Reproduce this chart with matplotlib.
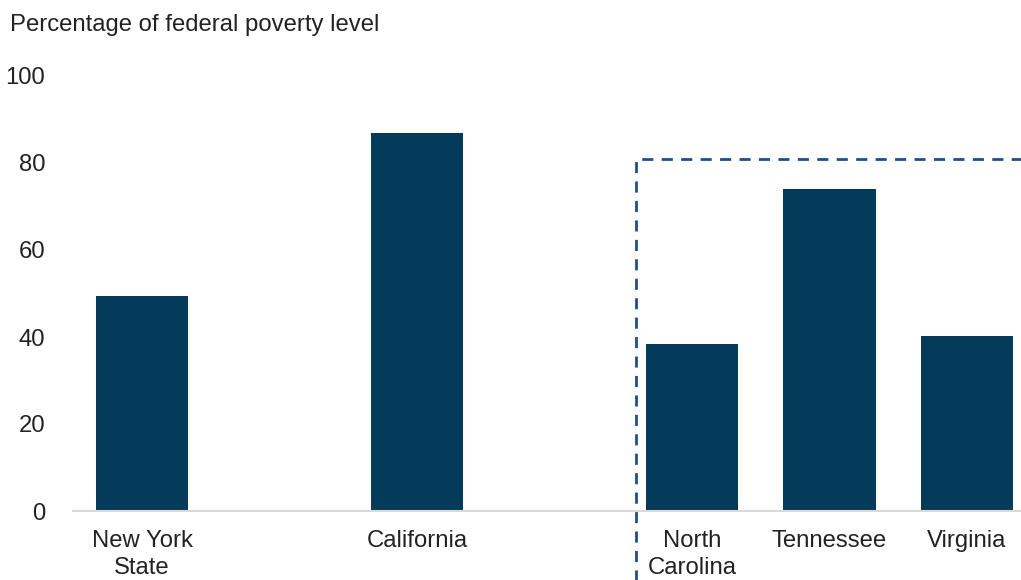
import matplotlib
matplotlib.use("Agg")
import matplotlib.pyplot as plt

categories = ["New York\nState", "California", "North\nCarolina", "Tennessee", "Virginia"]
values = [49.4, 86.9, 38.4, 74.0, 40.2]
groups = [0, 1, 2, 2, 2]
y_ticks = [0, 20, 40, 60, 80, 100]
box_top = 81

plt.rcParams['font.family'] = ['Liberation Sans', 'DejaVu Sans']
FS = 17.2

fig = plt.figure(figsize=(10.21, 5.8), dpi=100)
ax = fig.add_axes([73/1021, 69/580, 1 - 73/1021, (511-76)/580])

positions = [i + g for i, g in enumerate(groups)]
ax.bar(positions, values, width=0.67, color="#053B5A")

ax.set_xlim(-0.502, 6.393)
ax.set_ylim(0, 100)
ax.set_yticks(y_ticks)
ax.set_yticklabels([str(t) for t in y_ticks], fontsize=FS, color="#222222")
ax.set_xticks(positions)
ax.set_xticklabels(categories, fontsize=FS, color="#222222", linespacing=1.25)
ax.tick_params(axis='both', length=0)
ax.tick_params(axis='y', pad=20)
ax.tick_params(axis='x', pad=14)
for s in ["top", "right", "left"]:
    ax.spines[s].set_visible(False)
ax.spines["bottom"].set_color("#D9D9D9")
ax.spines["bottom"].set_linewidth(1.5)

# dashed highlight box
xd = positions[2] - 0.407
ax.plot([xd, xd, 7.0], [-20, box_top, box_top], linestyle=(0, (4, 3)),
        color="#1F4E8C", linewidth=2, clip_on=False)

fig.text(10/1021, 1 - 25/580, "Percentage of federal poverty level", fontsize=FS,
         color="#222222", va="center", ha="left")

fig.savefig("out.png", dpi=100)
